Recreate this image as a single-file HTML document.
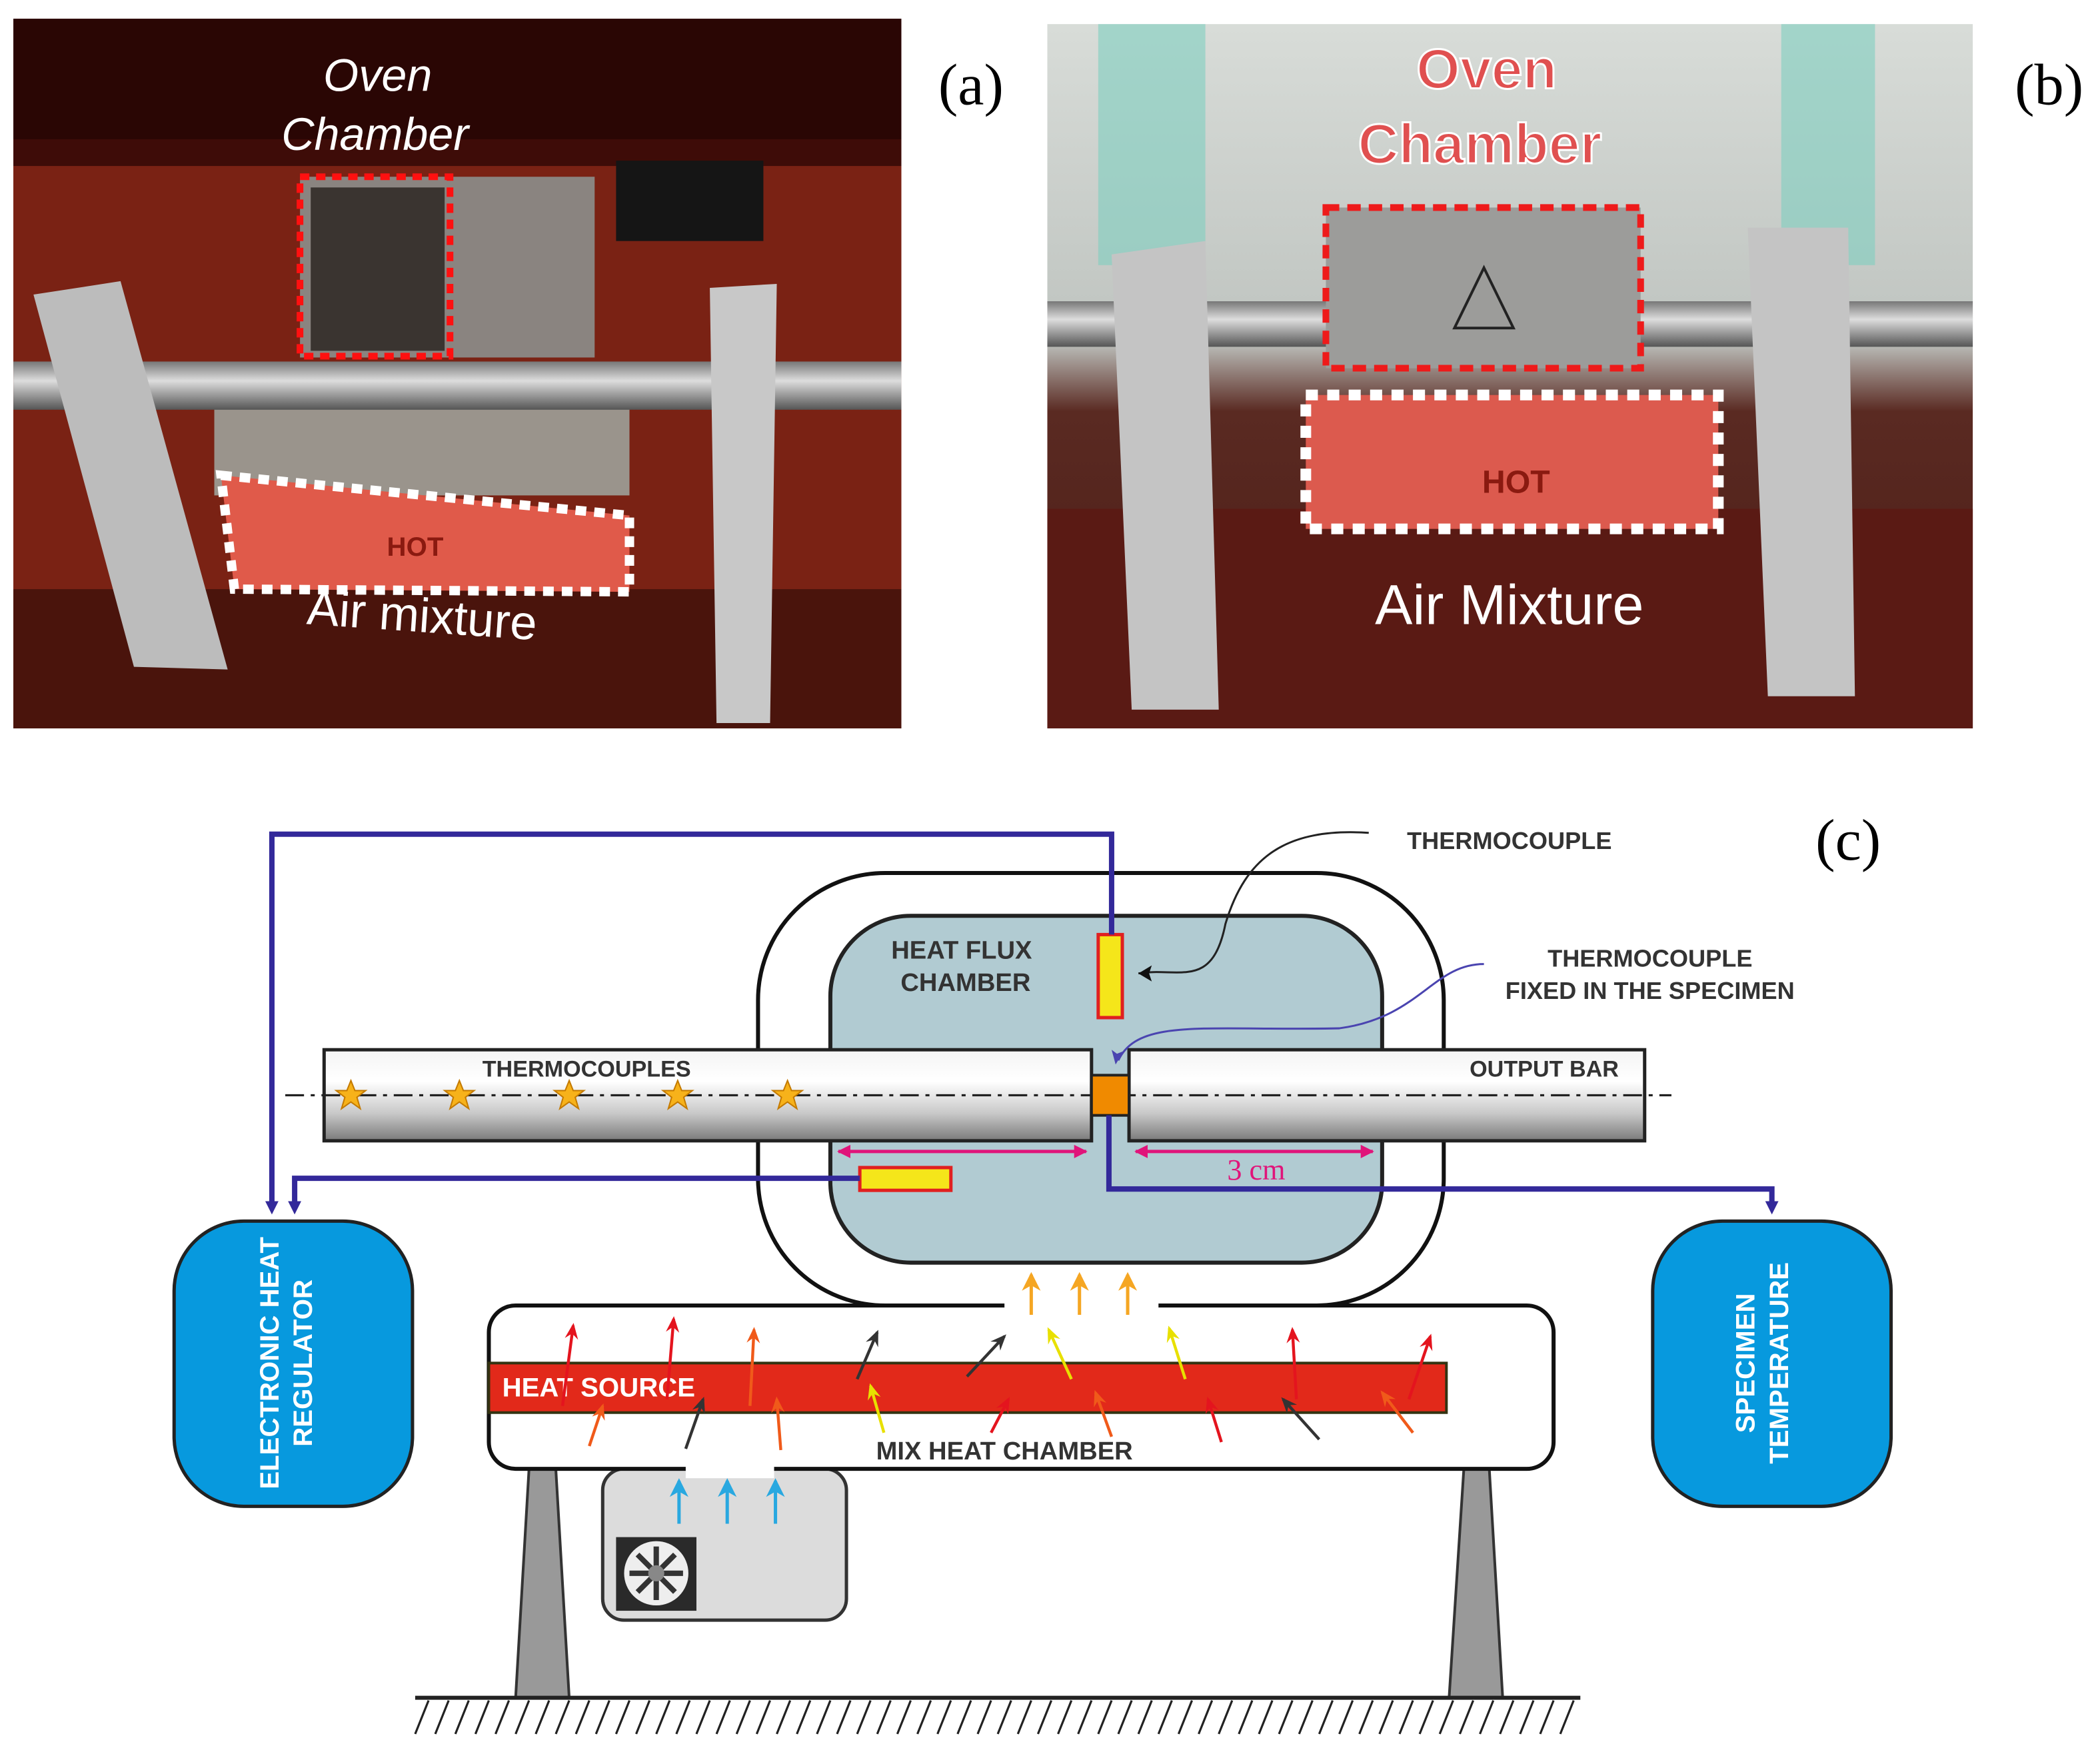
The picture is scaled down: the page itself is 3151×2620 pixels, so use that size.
<!DOCTYPE html>
<html><head><meta charset="utf-8"><style>
html,body{margin:0;padding:0;background:#fff}
svg{display:block}
text{font-family:"Liberation Sans",sans-serif}
</style></head><body>
<svg width="3151" height="2620" viewBox="0 0 1568 1304" preserveAspectRatio="none" xmlns="http://www.w3.org/2000/svg">
<defs>
<linearGradient id="bar" x1="0" y1="0" x2="0" y2="1">
<stop offset="0" stop-color="#f4f4f4"/><stop offset="0.35" stop-color="#ffffff"/><stop offset="0.7" stop-color="#c8c8c8"/><stop offset="1" stop-color="#7a7a7a"/></linearGradient>
<linearGradient id="rod" x1="0" y1="0" x2="0" y2="1">
<stop offset="0" stop-color="#777"/><stop offset="0.4" stop-color="#ddd"/><stop offset="1" stop-color="#555"/></linearGradient>
<linearGradient id="bgb" x1="0" y1="0" x2="0" y2="1">
<stop offset="0" stop-color="#d8dcd8"/><stop offset="0.45" stop-color="#bfc4c0"/><stop offset="0.55" stop-color="#5a2a22"/><stop offset="1" stop-color="#4a1a14"/></linearGradient>
<marker id="mb" markerWidth="10" markerHeight="10" refX="5" refY="5" orient="auto" markerUnits="userSpaceOnUse"><path d="M0,0 L10,5 L0,10 z" fill="#33299a"/></marker>
<marker id="mm" markerWidth="10" markerHeight="10" refX="9" refY="5" orient="auto-start-reverse" markerUnits="userSpaceOnUse"><path d="M0,0 L10,5 L0,10 z" fill="#e0147a"/></marker>
<marker id="mr" markerWidth="12" markerHeight="12" refX="10" refY="6" orient="auto" markerUnits="userSpaceOnUse"><path d="M0,1 L12,6 L0,11 L4,6z" fill="#e4141e"/></marker>
<marker id="mo" markerWidth="12" markerHeight="12" refX="10" refY="6" orient="auto" markerUnits="userSpaceOnUse"><path d="M0,1 L12,6 L0,11 L4,6z" fill="#f05a1a"/></marker>
<marker id="md" markerWidth="12" markerHeight="12" refX="10" refY="6" orient="auto" markerUnits="userSpaceOnUse"><path d="M0,1 L12,6 L0,11 L4,6z" fill="#333"/></marker>
<marker id="my" markerWidth="12" markerHeight="12" refX="10" refY="6" orient="auto" markerUnits="userSpaceOnUse"><path d="M0,1 L12,6 L0,11 L4,6z" fill="#e8e000"/></marker>
<marker id="ma" markerWidth="14" markerHeight="14" refX="12" refY="7" orient="auto" markerUnits="userSpaceOnUse"><path d="M0,0 L14,7 L0,14 L4,7z" fill="#f5a623"/></marker>
<marker id="mc" markerWidth="14" markerHeight="14" refX="12" refY="7" orient="auto" markerUnits="userSpaceOnUse"><path d="M0,0 L14,7 L0,14 L4,7z" fill="#29a8e0"/></marker>
</defs>

<!-- Photo a -->
<rect x="10" y="14" width="663" height="530" fill="#5a120c"/>
<rect x="10" y="14" width="663" height="90" fill="#2a0604"/>
<rect x="10" y="104" width="663" height="20" fill="#3e0c08"/>
<rect x="10" y="124" width="663" height="420" fill="#7a2214"/>
<rect x="10" y="440" width="663" height="104" fill="#4a140c"/>
<rect x="460" y="120" width="110" height="60" fill="#151515"/>
<rect x="224" y="132" width="220" height="135" fill="#8a8480"/>
<rect x="232" y="140" width="100" height="122" fill="#3a3430"/>
<rect x="160" y="290" width="310" height="80" fill="#9a948c"/>
<rect x="10" y="270" width="663" height="36" fill="url(#rod)"/>
<rect x="224" y="132" width="112" height="134" fill="none" stroke="#ff1010" stroke-width="5" stroke-dasharray="7,5"/>
<polygon points="165,355 470,385 470,442 175,440" fill="#e05a4a" stroke="#fff" stroke-width="7" stroke-dasharray="8,6"/>
<text x="310" y="415" font-size="20" font-weight="bold" fill="#8a1a10" text-anchor="middle">HOT</text>
<polygon points="25,220 90,210 170,500 100,498" fill="#bcbcbc"/>
<polygon points="530,215 580,212 575,540 535,540" fill="#c8c8c8"/>
<text x="282" y="68" font-size="34" font-style="italic" fill="#fff" text-anchor="middle">Oven</text>
<text x="280" y="112" font-size="34" font-style="italic" fill="#fff" text-anchor="middle">Chamber</text>
<text x="315" y="472" font-size="36" fill="#fff" text-anchor="middle" transform="rotate(4 315 462)">Air mixture</text>

<!-- Photo b -->
<rect x="782" y="18" width="691" height="526" fill="url(#bgb)"/>
<rect x="820" y="18" width="80" height="180" fill="#7fcfc0" opacity="0.6"/>
<rect x="1330" y="18" width="70" height="180" fill="#7fcfc0" opacity="0.6"/>
<rect x="782" y="380" width="691" height="164" fill="#5a1a14"/>
<rect x="782" y="225" width="691" height="34" fill="url(#rod)"/>
<rect x="990" y="155" width="235" height="120" fill="#9c9c9a"/>
<rect x="990" y="155" width="235" height="120" fill="none" stroke="#ee1a1a" stroke-width="5" stroke-dasharray="10,6"/>
<polygon points="1108,200 1130,245 1086,245" fill="none" stroke="#222" stroke-width="2"/>
<rect x="975" y="295" width="308" height="100" fill="#dc5a4e" stroke="#fff" stroke-width="8" stroke-dasharray="9,7"/>
<text x="1132" y="368" font-size="24" font-weight="bold" fill="#8a1a10" text-anchor="middle">HOT</text>
<polygon points="830,190 900,180 910,530 845,530" fill="#c4c4c4"/>
<polygon points="1305,170 1380,170 1385,520 1320,520" fill="#c4c4c4"/>
<text x="1110" y="66" font-size="42" font-weight="bold" fill="#e05050" stroke="#fff" stroke-width="1.5" text-anchor="middle">Oven</text>
<text x="1105" y="122" font-size="42" font-weight="bold" fill="#e05050" stroke="#fff" stroke-width="1.5" text-anchor="middle">Chamber</text>
<text x="1127" y="466" font-size="42" fill="#fff" text-anchor="middle">Air Mixture</text>

<text x="725" y="78" font-size="44" font-family="Liberation Serif" text-anchor="middle" style="font-family:'Liberation Serif',serif">(a)</text>
<text x="1530" y="78" font-size="44" text-anchor="middle" style="font-family:'Liberation Serif',serif">(b)</text>
<text x="1380" y="642" font-size="44" text-anchor="middle" style="font-family:'Liberation Serif',serif">(c)</text>

<!-- Diagram -->
<rect x="566" y="652" width="512" height="323" rx="95" fill="#fff" stroke="#111" stroke-width="3"/>
<rect x="620" y="684" width="412" height="259" rx="60" fill="#b1cbd2" stroke="#222" stroke-width="3"/>
<text x="718" y="716" font-size="19" font-weight="bold" fill="#333" text-anchor="middle">HEAT FLUX</text>
<text x="721" y="740" font-size="19" font-weight="bold" fill="#333" text-anchor="middle">CHAMBER</text>

<rect x="242" y="784" width="573" height="68" fill="url(#bar)" stroke="#222" stroke-width="2.5"/>
<rect x="843" y="784" width="385" height="68" fill="url(#bar)" stroke="#222" stroke-width="2.5"/>
<line x1="213" y1="818" x2="1248" y2="818" stroke="#222" stroke-width="1.6" stroke-dasharray="14,5,3,5"/>
<text x="438" y="804" font-size="17" font-weight="bold" fill="#333" text-anchor="middle">THERMOCOUPLES</text>
<text x="1153" y="804" font-size="17" font-weight="bold" fill="#333" text-anchor="middle">OUTPUT BAR</text>
<g fill="#f7b21a" stroke="#c47a00" stroke-width="1">
<path id="st" d="M0,-11 L3,-3.5 L11,-3.5 L4.5,1.5 L7,10 L0,5 L-7,10 L-4.5,1.5 L-11,-3.5 L-3,-3.5z" transform="translate(262,818)"/>
<path d="M0,-11 L3,-3.5 L11,-3.5 L4.5,1.5 L7,10 L0,5 L-7,10 L-4.5,1.5 L-11,-3.5 L-3,-3.5z" transform="translate(343,818)"/>
<path d="M0,-11 L3,-3.5 L11,-3.5 L4.5,1.5 L7,10 L0,5 L-7,10 L-4.5,1.5 L-11,-3.5 L-3,-3.5z" transform="translate(425,818)"/>
<path d="M0,-11 L3,-3.5 L11,-3.5 L4.5,1.5 L7,10 L0,5 L-7,10 L-4.5,1.5 L-11,-3.5 L-3,-3.5z" transform="translate(506,818)"/>
<path d="M0,-11 L3,-3.5 L11,-3.5 L4.5,1.5 L7,10 L0,5 L-7,10 L-4.5,1.5 L-11,-3.5 L-3,-3.5z" transform="translate(588,818)"/>
</g>
<rect x="815" y="803" width="28" height="30" fill="#f08a00" stroke="#222" stroke-width="2"/>
<rect x="820" y="698" width="18" height="62" fill="#f5e61a" stroke="#e02020" stroke-width="2.5"/>
<rect x="642" y="872" width="68" height="17" fill="#f5e61a" stroke="#e02020" stroke-width="2.5"/>

<line x1="626" y1="860" x2="811" y2="860" stroke="#e0147a" stroke-width="2.5" marker-start="url(#mm)" marker-end="url(#mm)"/>
<line x1="848" y1="860" x2="1025" y2="860" stroke="#e0147a" stroke-width="2.5" marker-start="url(#mm)" marker-end="url(#mm)"/>
<text x="938" y="881" font-size="22" fill="#e0147a" text-anchor="middle" style="font-family:'Liberation Serif',serif">3 cm</text>

<!-- blue wires -->
<g fill="none" stroke="#33299a" stroke-width="4">
<polyline points="830,698 830,623 203,623 203,902" marker-end="url(#mb)"/>
<polyline points="642,880 220,880 220,902" marker-end="url(#mb)"/>
<polyline points="828,833 828,888 1323,888 1323,902" marker-end="url(#mb)"/>
</g>
<!-- annotations -->
<path d="M1022,622 C960,618 930,640 915,690 C905,740 880,722 850,727" fill="none" stroke="#222" stroke-width="1.5"/>
<path d="M850,727 l10,-6 l-2,6 l2,6z" fill="#111"/>
<path d="M1108,720 C1070,720 1060,760 1000,768 C900,770 850,760 835,792" fill="none" stroke="#4a44b0" stroke-width="1.5"/>
<path d="M833,795 l-3,-11 l4,3 l5,-2z" fill="#4a44b0"/>
<text x="1127" y="634" font-size="18" font-weight="bold" fill="#333" text-anchor="middle">THERMOCOUPLE</text>
<text x="1232" y="722" font-size="18" font-weight="bold" fill="#333" text-anchor="middle">THERMOCOUPLE</text>
<text x="1232" y="746" font-size="18" font-weight="bold" fill="#333" text-anchor="middle">FIXED IN THE SPECIMEN</text>

<!-- nodes -->
<rect x="130" y="912" width="178" height="213" rx="52" fill="#0799de" stroke="#222" stroke-width="2.5"/>
<rect x="1234" y="912" width="178" height="213" rx="52" fill="#0799de" stroke="#222" stroke-width="2.5"/>
<text transform="translate(208,1018) rotate(-90)" font-size="20" font-weight="bold" fill="#fff" text-anchor="middle">ELECTRONIC HEAT</text>
<text transform="translate(233,1018) rotate(-90)" font-size="20" font-weight="bold" fill="#fff" text-anchor="middle">REGULATOR</text>
<text transform="translate(1310,1018) rotate(-90)" font-size="20" font-weight="bold" fill="#fff" text-anchor="middle">SPECIMEN</text>
<text transform="translate(1335,1018) rotate(-90)" font-size="20" font-weight="bold" fill="#fff" text-anchor="middle">TEMPERATURE</text>

<!-- legs & ground -->
<polygon points="395,1097 415,1097 425,1268 385,1268" fill="#999" stroke="#333" stroke-width="2"/>
<polygon points="1093,1097 1112,1097 1122,1268 1082,1268" fill="#999" stroke="#333" stroke-width="2"/>
<line x1="310" y1="1268" x2="1180" y2="1268" stroke="#222" stroke-width="3"/>
<g stroke="#222" stroke-width="1.6">
<path d="M320,1270 l-10,25 M335,1270 l-10,25 M350,1270 l-10,25 M365,1270 l-10,25 M380,1270 l-10,25 M395,1270 l-10,25 M410,1270 l-10,25 M425,1270 l-10,25 M440,1270 l-10,25 M455,1270 l-10,25 M470,1270 l-10,25 M485,1270 l-10,25 M500,1270 l-10,25 M515,1270 l-10,25 M530,1270 l-10,25 M545,1270 l-10,25 M560,1270 l-10,25 M575,1270 l-10,25 M590,1270 l-10,25 M605,1270 l-10,25 M620,1270 l-10,25 M635,1270 l-10,25 M650,1270 l-10,25 M665,1270 l-10,25 M680,1270 l-10,25 M695,1270 l-10,25 M710,1270 l-10,25 M725,1270 l-10,25 M740,1270 l-10,25 M755,1270 l-10,25 M770,1270 l-10,25 M785,1270 l-10,25 M800,1270 l-10,25 M815,1270 l-10,25 M830,1270 l-10,25 M845,1270 l-10,25 M860,1270 l-10,25 M875,1270 l-10,25 M890,1270 l-10,25 M905,1270 l-10,25 M920,1270 l-10,25 M935,1270 l-10,25 M950,1270 l-10,25 M965,1270 l-10,25 M980,1270 l-10,25 M995,1270 l-10,25 M1010,1270 l-10,25 M1025,1270 l-10,25 M1040,1270 l-10,25 M1055,1270 l-10,25 M1070,1270 l-10,25 M1085,1270 l-10,25 M1100,1270 l-10,25 M1115,1270 l-10,25 M1130,1270 l-10,25 M1145,1270 l-10,25 M1160,1270 l-10,25 M1175,1270 l-10,25"/>
</g>

<!-- fan box -->
<rect x="450" y="1097" width="182" height="113" rx="16" fill="#dcdcdc" stroke="#333" stroke-width="2.5"/>
<rect x="460" y="1148" width="60" height="55" fill="#2a2a2a"/>
<circle cx="490" cy="1175" r="24" fill="#eee"/>
<g stroke="#333" stroke-width="4"><line x1="490" y1="1155" x2="490" y2="1195"/><line x1="470" y1="1175" x2="510" y2="1175"/><line x1="476" y1="1161" x2="504" y2="1189"/><line x1="504" y1="1161" x2="476" y2="1189"/></g>
<circle cx="490" cy="1175" r="6" fill="#888"/>

<!-- mix heat chamber -->
<rect x="365" y="975" width="795" height="122" rx="20" fill="#fff" stroke="#111" stroke-width="3"/>
<rect x="750" y="968" width="115" height="14" fill="#fff"/>
<rect x="512" y="1092" width="66" height="12" fill="#fff"/>
<rect x="365" y="1018" width="715" height="37" fill="#e2291a" stroke="#331" stroke-width="2"/>
<text x="375" y="1043" font-size="20" font-weight="bold" fill="#fff">HEAT SOURCE</text>
<text x="750" y="1090" font-size="19" font-weight="bold" fill="#333" text-anchor="middle">MIX HEAT CHAMBER</text>

<g stroke-width="2.2" fill="none">
<line x1="420" y1="1050" x2="428" y2="990" stroke="#e4141e" marker-end="url(#mr)"/>
<line x1="498" y1="1045" x2="503" y2="985" stroke="#e4141e" marker-end="url(#mr)"/>
<line x1="560" y1="1050" x2="563" y2="993" stroke="#f05a1a" marker-end="url(#mo)"/>
<line x1="640" y1="1030" x2="655" y2="995" stroke="#333" marker-end="url(#md)"/>
<line x1="722" y1="1028" x2="750" y2="998" stroke="#333" marker-end="url(#md)"/>
<line x1="800" y1="1030" x2="783" y2="993" stroke="#e8e000" marker-end="url(#my)"/>
<line x1="885" y1="1030" x2="873" y2="992" stroke="#e8e000" marker-end="url(#my)"/>
<line x1="968" y1="1045" x2="965" y2="993" stroke="#e4141e" marker-end="url(#mr)"/>
<line x1="1052" y1="1045" x2="1068" y2="998" stroke="#e4141e" marker-end="url(#mr)"/>
<line x1="440" y1="1080" x2="450" y2="1050" stroke="#f05a1a" marker-end="url(#mo)"/>
<line x1="512" y1="1082" x2="525" y2="1045" stroke="#333" marker-end="url(#md)"/>
<line x1="583" y1="1083" x2="580" y2="1045" stroke="#f05a1a" marker-end="url(#mo)"/>
<line x1="660" y1="1070" x2="650" y2="1035" stroke="#e8e000" marker-end="url(#my)"/>
<line x1="740" y1="1070" x2="753" y2="1045" stroke="#e4141e" marker-end="url(#mr)"/>
<line x1="830" y1="1073" x2="818" y2="1040" stroke="#f05a1a" marker-end="url(#mo)"/>
<line x1="912" y1="1077" x2="902" y2="1045" stroke="#e4141e" marker-end="url(#mr)"/>
<line x1="985" y1="1075" x2="958" y2="1045" stroke="#333" marker-end="url(#md)"/>
<line x1="1055" y1="1070" x2="1032" y2="1040" stroke="#f05a1a" marker-end="url(#mo)"/>
<line x1="770" y1="982" x2="770" y2="952" stroke="#f5a623" stroke-width="2.5" marker-end="url(#ma)"/>
<line x1="806" y1="982" x2="806" y2="952" stroke="#f5a623" stroke-width="2.5" marker-end="url(#ma)"/>
<line x1="842" y1="982" x2="842" y2="952" stroke="#f5a623" stroke-width="2.5" marker-end="url(#ma)"/>
<line x1="507" y1="1138" x2="507" y2="1106" stroke="#29a8e0" stroke-width="2.5" marker-end="url(#mc)"/>
<line x1="543" y1="1138" x2="543" y2="1106" stroke="#29a8e0" stroke-width="2.5" marker-end="url(#mc)"/>
<line x1="579" y1="1138" x2="579" y2="1106" stroke="#29a8e0" stroke-width="2.5" marker-end="url(#mc)"/>
</g>
</svg>
</body></html>
